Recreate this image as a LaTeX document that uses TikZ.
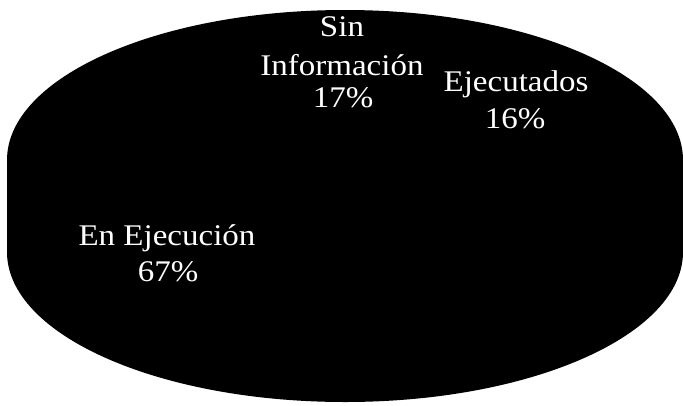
\documentclass[tikz,border=0pt]{standalone}
\usepackage{fontspec}
\setmainfont{Liberation Serif}
\tikzset{
  pielabel/.style={text=white, anchor=base, inner sep=0pt, xscale=1.1,
    font=\fontsize{30}{36}\selectfont}
}
\begin{document}
\begin{tikzpicture}[x=1pt, y=-1pt]
  \useasboundingbox[fill=white] (0,0) rectangle (683,405);
  % 3D pie silhouette (all black)
  \fill[black] (345,160) ellipse [x radius=338pt, y radius=150pt];
  \fill[black] (7,160) rectangle (683,252);
  \fill[black] (345,252) ellipse [x radius=338pt, y radius=150pt];
  % labels
  \node[pielabel] (sinA) at (342,36.5) {Sin};
  \node[pielabel] (sinB) at (342,75) {Información};
  \node[pielabel] (sinC) at (343,107) {17\%};
  \node[pielabel] (ejeA) at (516,91) {Ejecutados};
  \node[pielabel] (ejeB) at (515,128) {16\%};
  \node[pielabel] (enA) at (167,245) {En Ejecución};
  \node[pielabel] (enB) at (168,281) {67\%};
\end{tikzpicture}
\end{document}
